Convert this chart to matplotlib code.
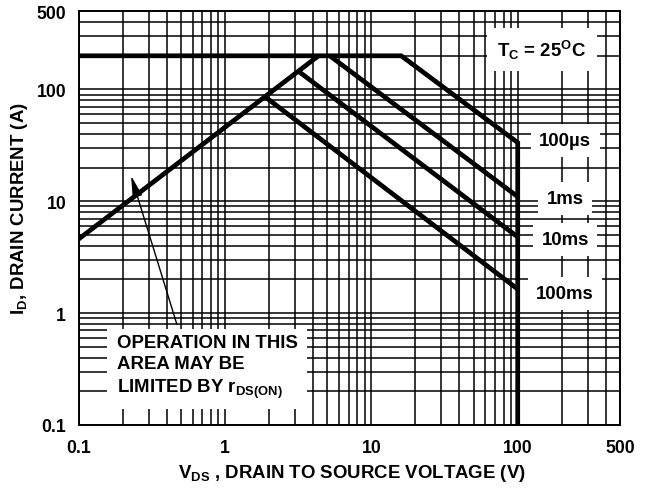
import matplotlib
matplotlib.use("Agg")
import matplotlib.pyplot as plt
from matplotlib.ticker import LogLocator, FixedLocator, FixedFormatter, NullFormatter

plt.rcParams['font.family'] = ['Liberation Sans', 'DejaVu Sans']
plt.rcParams['font.weight'] = 'bold'
plt.rcParams['mathtext.fontset'] = 'custom'
plt.rcParams['mathtext.rm'] = 'Liberation Sans:bold'
plt.rcParams['mathtext.it'] = 'Liberation Sans:bold'
plt.rcParams['mathtext.bf'] = 'Liberation Sans:bold'
plt.rcParams['mathtext.default'] = 'rm'

# ---- data ----
outline_v = [0.1, 16.0, 100.0, 100.0]      # current limit, 100us, breakdown
outline_i = [200.0, 200.0, 33.5, 0.1]
rds_v = [0.1, 4.35]                         # rDS(ON) limit
rds_i = [4.6, 200.0]
ms1_v = [5.2, 100.0]
ms1_i = [200.0, 11.0]
ms10_v = [3.14, 100.0]
ms10_i = [147.0, 4.8]
ms100_v = [1.9, 100.0]
ms100_i = [85.0, 1.64]

x_ticks = [0.1, 1, 10, 100, 500]
x_tick_labels = ["0.1", "1", "10", "100", "500"]
y_ticks = [0.1, 1, 10, 100, 500]
y_tick_labels = ["0.1", "1", "10", "100", "500"]

curve_labels = ["100\u00b5s", "1ms", "10ms", "100ms"]

W, H = 648, 489
FS = 13.4
fig = plt.figure(figsize=(W / 100, H / 100), dpi=100)
x0, x1, y0, y1 = 78.7, 620.0, 12.3, 426.0
ax = fig.add_axes([x0 / W, 1 - y1 / H, (x1 - x0) / W, (y1 - y0) / H])
ax.set_xscale('log')
ax.set_yscale('log')
ax.set_xlim(0.1, 500)
ax.set_ylim(0.1, 500)

ax.xaxis.set_major_locator(FixedLocator(x_ticks))
ax.xaxis.set_major_formatter(FixedFormatter(x_tick_labels))
ax.yaxis.set_major_locator(FixedLocator(y_ticks))
ax.yaxis.set_major_formatter(FixedFormatter(y_tick_labels))
ax.xaxis.set_minor_locator(LogLocator(base=10, subs=range(1, 10), numticks=20))
ax.yaxis.set_minor_locator(LogLocator(base=10, subs=range(1, 10), numticks=20))
ax.xaxis.set_minor_formatter(NullFormatter())
ax.yaxis.set_minor_formatter(NullFormatter())
ax.tick_params(which='both', length=0)
ax.tick_params(axis='x', pad=10, labelsize=12.7)
ax.tick_params(axis='y', pad=9, labelsize=12.7)
for lab in ax.get_xticklabels() + ax.get_yticklabels():
    lab.set_fontweight('bold')
ax.grid(True, which='both', color='black', lw=1.1)
for sp in ax.spines.values():
    sp.set_linewidth(1.4)

lw = 3.4
ax.plot(outline_v, outline_i, color='black', lw=lw, solid_joinstyle='miter', solid_capstyle='butt', zorder=3)
ax.plot(rds_v, rds_i, color='black', lw=lw, solid_capstyle='butt', zorder=3)
ax.plot(ms1_v, ms1_i, color='black', lw=lw, solid_capstyle='butt', zorder=3)
ax.plot(ms10_v, ms10_i, color='black', lw=lw, solid_capstyle='butt', zorder=3)
ax.plot(ms100_v, ms100_i, color='black', lw=lw, solid_capstyle='butt', zorder=3)

box = dict(facecolor='white', edgecolor='none', boxstyle='square,pad=0.45')
label_pos = [(211, 35.0), (211, 10.6), (211, 4.55), (211, 1.5)]
for txt, (lx, ly) in zip(curve_labels, label_pos):
    ax.text(lx, ly, txt, ha='center', va='center', fontsize=FS, fontweight='bold',
            bbox=box, zorder=4)

ax.text(146, 228, r'T$_\mathregular{C}$ = 25$^\mathregular{O}$C', ha='center', va='center',
        fontsize=FS, fontweight='bold', zorder=4,
        bbox=dict(facecolor='white', edgecolor='none', boxstyle='square,pad=0.55'))

ax.text(0.182, 0.65,
        'OPERATION IN THIS\nAREA MAY BE\nLIMITED BY r$_\\mathregular{DS(ON)}$',
        ha='left', va='top', fontsize=FS, fontweight='bold', linespacing=1.3, zorder=4,
        bbox=dict(facecolor='white', edgecolor='none', boxstyle='square,pad=0.5'))

ax.annotate('', xy=(0.228, 16.9), xytext=(0.468, 0.80),
            arrowprops=dict(arrowstyle='-|>,head_length=1.3,head_width=0.3',
                            mutation_scale=10, color='black', lw=1.0,
                            shrinkA=0, shrinkB=0), zorder=5)

fig.text(352 / W, 1 - 474 / H, r'V$_\mathregular{DS}$ , DRAIN TO SOURCE VOLTAGE (V)',
         ha='center', va='center', fontsize=FS, fontweight='bold')
fig.text(20 / W, 1 - 209 / H, r'I$_\mathregular{D}$, DRAIN CURRENT (A)',
         ha='center', va='center', rotation=90, fontsize=FS, fontweight='bold')

fig.savefig('out.png', dpi=100)
